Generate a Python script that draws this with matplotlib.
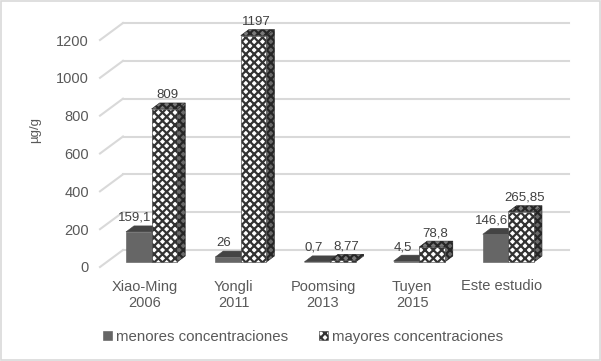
import matplotlib
matplotlib.use("Agg")
import matplotlib.pyplot as plt
from matplotlib.patches import Rectangle
from matplotlib.transforms import ScaledTranslation

plt.rcParams['font.family'] = ['Liberation Sans', 'DejaVu Sans']
plt.rcParams['hatch.linewidth'] = 1.6

categories = ["Xiao-Ming\n2006", "Yongli\n2011", "Poomsing\n2013", "Tuyen\n2015", "Este estudio"]
menores = [159.1, 26, 0.7, 4.5, 146.6]
mayores = [809, 1197, 8.77, 78.8, 265.85]
menores_lbl = ["159,1", "26", "0,7", "4,5", "146,6"]
mayores_lbl = ["809", "1197", "8,77", "78,8", "265,85"]
yticks = [0, 200, 400, 600, 800, 1000, 1200]
series_names = ["menores concentraciones", "mayores concentraciones"]

W, H = 601, 361
fig = plt.figure(figsize=(W / 100, H / 100), dpi=100)
ax = fig.add_axes([107 / W, 99 / H, 446 / W, 227 / H])
ax.set_xlim(-0.5, 4.5)
ax.set_ylim(0, 1200)
for s in ax.spines.values():
    s.set_visible(False)
ax.patch.set_alpha(0)

# pixel -> data unit conversion
inv = ax.transData.inverted()
p0 = inv.transform((0, 0))
p1 = inv.transform((1, 1))
ux, uy = p1[0] - p0[0], p1[1] - p0[1]

grid_c = '#d9d9d9'
BX, BY = 16, 12   # back wall offset
FX, FY = -7, -5   # label plane offset
for v in yticks:
    ax.plot([-0.5 + BX * ux, 4.5 + BX * ux], [v + BY * uy, v + BY * uy],
            color=grid_c, lw=1.5, clip_on=False, zorder=1)
    ax.plot([-0.5 + FX * ux, -0.5 + BX * ux], [v + FY * uy, v + BY * uy],
            color=grid_c, lw=1.5, clip_on=False, zorder=1)

w = 0.287
DX, DY = 8, 6  # bar depth
HATCH = 'xxxx'

def draw_bar(x0, v, top, side, hatch, edge, z):
    ax.fill([x0 + w, x0 + w + DX * ux, x0 + w + DX * ux, x0 + w],
            [0, DY * uy, v + DY * uy, v], facecolor=side, edgecolor=edge,
            hatch=hatch, lw=0.4, clip_on=False, zorder=z)
    ax.fill([x0, x0 + w, x0 + w + DX * ux, x0 + DX * ux],
            [v, v, v + DY * uy, v + DY * uy], facecolor=top, edgecolor=edge,
            hatch=hatch, lw=0.4, clip_on=False, zorder=z)

xs = list(range(len(categories)))
for i in xs:
    draw_bar(i - w, menores[i], '#444444', '#4a4a4a', None, '#444444', 3)
    ax.bar(i - w, menores[i], width=w, align='edge', color='#666666',
           edgecolor='#5a5a5a', lw=0.4, zorder=3.1, clip_on=False,
           label=series_names[0] if i == 0 else None)
    draw_bar(i, mayores[i], '#7a7a7a', '#6a6a6a', HATCH, '#262626', 4)
    ax.bar(i, mayores[i], width=w, align='edge', facecolor='white',
           edgecolor='#333333', hatch=HATCH, lw=0.4, zorder=4.1, clip_on=False,
           label=series_names[1] if i == 0 else None)

# data labels
for i in xs:
    ax.text(i - w / 2 + (DX / 2 - 8) * ux, menores[i] + (DY + 2) * uy, menores_lbl[i],
            ha='center', va='bottom', fontsize=9.5, color='#404040', zorder=6)
    ax.text(i + w / 2 + (DX / 2 - 1) * ux, mayores[i] + (DY + 2) * uy, mayores_lbl[i],
            ha='center', va='bottom', fontsize=9.5, color='#404040', zorder=6)

ax.set_yticks(yticks)
ax.set_yticklabels([str(t) for t in yticks])
ax.set_xticks(xs)
ax.set_xticklabels(categories, linespacing=1.25)
ax.tick_params(axis='both', length=0, labelsize=10.5, labelcolor='#595959')
ax.tick_params(axis='y', pad=13)
ax.tick_params(axis='x', pad=9)
for lab in ax.get_yticklabels():
    lab.set_transform(lab.get_transform() + ScaledTranslation(0, FY / 100, fig.dpi_scale_trans))
for lab in ax.get_xticklabels():
    lab.set_transform(lab.get_transform() + ScaledTranslation(FX / 100, FY / 100, fig.dpi_scale_trans))

fig.text(35 / W, 1 - 130 / H, "µg/g", rotation=90, ha='center', va='center',
         fontsize=9.5, color='#595959')

leg = fig.legend(loc='center', bbox_to_anchor=(303 / W, 1 - 337 / H), ncol=2,
                 frameon=False, fontsize=10.8, handlelength=0.6, handleheight=0.6,
                 handletextpad=0.3, columnspacing=2.0, labelcolor='#595959')

fig.patches.append(Rectangle((0.001, 0.002), 0.997, 0.995, transform=fig.transFigure,
                             fill=False, edgecolor='#d9d9d9', lw=1.2))

fig.savefig("out.png", dpi=100, facecolor='white')
